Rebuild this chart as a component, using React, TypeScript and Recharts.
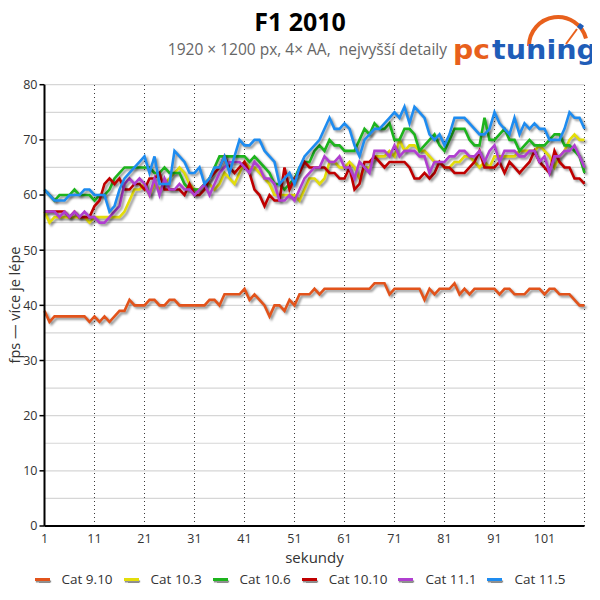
import React from 'react';
import { LineChart, Line, XAxis, YAxis, ReferenceLine } from 'recharts';

const seconds: number[] = Array.from({ length: 109 }, (_, i) => i + 1);

const cat910 = [
  39, 37, 38, 38, 38, 38, 38, 38, 38, 37,
  38, 37, 38, 37, 38, 39, 39, 41, 40, 40,
  40, 41, 41, 40, 40, 41, 41, 40, 40, 40,
  40, 40, 40, 41, 41, 40, 42, 42, 42, 42,
  43, 41, 42, 41, 40, 38, 40, 40, 39, 41,
  40, 42, 42, 42, 43, 42, 43, 43, 43, 43,
  43, 43, 43, 43, 43, 43, 44, 44, 44, 42,
  43, 43, 43, 43, 43, 43, 41, 43, 42, 43,
  43, 43, 44, 42, 43, 42, 43, 43, 43, 43,
  43, 42, 43, 43, 42, 42, 42, 43, 43, 43,
  42, 43, 43, 42, 42, 42, 41, 40, 40,
];

const cat103 = [
  57, 55, 56, 56, 56, 56, 56, 56, 56, 55,
  56, 56, 56, 56, 56, 56, 57, 59, 61, 61,
  62, 60, 62, 61, 62, 63, 64, 65, 64, 62,
  61, 61, 62, 62, 61, 62, 64, 63, 62, 64,
  66, 65, 65, 64, 63, 62, 60, 60, 60, 60,
  60, 59, 61, 63, 63, 62, 63, 66, 66, 65,
  65, 66, 65, 63, 65, 65, 67, 67, 67, 68,
  67, 70, 68, 69, 69, 68, 68, 67, 66, 66,
  65, 65, 66, 66, 67, 67, 66, 65, 66, 65,
  67, 67, 67, 67, 67, 68, 68, 68, 68, 69,
  68, 67, 65, 67, 68, 70, 71, 70, 70,
];

const cat106 = [
  61, 60, 59, 60, 60, 60, 61, 60, 60, 60,
  59, 60, 60, 61, 63, 64, 65, 65, 65, 65,
  65, 65, 64, 64, 65, 64, 64, 64, 62, 61,
  61, 61, 62, 63, 65, 67, 67, 67, 67, 67,
  67, 66, 67, 66, 65, 64, 62, 62, 61, 62,
  63, 65, 66, 66, 68, 69, 68, 70, 69, 69,
  68, 68, 68, 70, 72, 71, 73, 72, 72, 73,
  70, 70, 72, 72, 71, 68, 69, 70, 71, 69,
  68, 70, 72, 72, 72, 70, 69, 69, 74, 70,
  70, 71, 72, 70, 70, 68, 69, 70, 69, 69,
  69, 70, 71, 71, 69, 69, 68, 67, 64,
];

const cat1010 = [
  57, 57, 57, 57, 57, 56, 57, 56, 56, 56,
  58, 59, 62, 63, 62, 63, 61, 61, 62, 62,
  61, 63, 63, 64, 61, 61, 61, 61, 60, 62,
  60, 60, 61, 63, 64, 65, 67, 65, 64, 65,
  66, 64, 61, 60, 58, 60, 59, 59, 65, 61,
  63, 64, 66, 65, 65, 65, 65, 64, 64, 63,
  63, 65, 61, 62, 66, 66, 67, 66, 65, 66,
  66, 66, 66, 65, 63, 63, 64, 63, 64, 66,
  65, 65, 64, 64, 64, 65, 66, 68, 65, 65,
  65, 66, 64, 66, 65, 64, 65, 66, 68, 66,
  65, 64, 68, 66, 65, 65, 63, 63, 62,
];

const cat111 = [
  57, 57, 57, 56, 57, 56, 57, 56, 57, 56,
  56, 55, 55, 56, 57, 58, 62, 63, 62, 63,
  62, 60, 63, 60, 63, 61, 61, 62, 61, 61,
  60, 61, 62, 60, 62, 64, 65, 66, 66, 66,
  65, 64, 66, 65, 63, 63, 62, 59, 59, 60,
  59, 61, 63, 64, 65, 65, 67, 66, 66, 67,
  65, 65, 63, 66, 65, 64, 68, 68, 68, 67,
  69, 67, 68, 68, 68, 67, 67, 64, 66, 66,
  66, 67, 67, 68, 68, 67, 67, 68, 66, 68,
  69, 66, 68, 68, 68, 67, 67, 68, 68, 66,
  67, 64, 67, 67, 68, 68, 69, 67, 65,
];

const cat115 = [
  61, 60, 59, 59, 59, 60, 60, 60, 61, 61,
  60, 60, 60, 57, 58, 61, 63, 64, 65, 66,
  67, 64, 67, 62, 62, 62, 68, 67, 66, 64,
  64, 65, 62, 63, 65, 65, 67, 64, 67, 70,
  69, 69, 70, 70, 68, 67, 66, 62, 63, 64,
  62, 65, 67, 68, 69, 70, 72, 74, 72, 72,
  73, 72, 69, 67, 70, 71, 72, 72, 73, 74,
  75, 74, 76, 73, 76, 75, 74, 71, 70, 71,
  69, 71, 74, 74, 74, 73, 72, 71, 71, 72,
  75, 73, 72, 71, 74, 71, 73, 72, 73, 72,
  72, 70, 70, 70, 72, 75, 74, 74, 72,
];

const xTicks = [1, 11, 21, 31, 41, 51, 61, 71, 81, 91, 101];
const xGridValues = [11, 21, 31, 41, 51, 61, 71, 81, 91, 101, 109];
const yTicks = [0, 10, 20, 30, 40, 50, 60, 70, 80];
const yGridValues = [5, 10, 15, 20, 25, 30, 35, 40, 45, 50, 55, 60, 65, 70, 75, 80];

const series = [
  { key: 'cat910', name: 'Cat 9.10', color: '#E2531B', values: cat910 },
  { key: 'cat103', name: 'Cat 10.3', color: '#E3DD0A', values: cat103 },
  { key: 'cat106', name: 'Cat 10.6', color: '#1DB41D', values: cat106 },
  { key: 'cat1010', name: 'Cat 10.10', color: '#C00000', values: cat1010 },
  { key: 'cat111', name: 'Cat 11.1', color: '#B03FD0', values: cat111 },
  { key: 'cat115', name: 'Cat 11.5', color: '#1E8CF0', values: cat115 },
];

const data = seconds.map((s, i) => {
  const row: Record<string, number> = { s };
  series.forEach((sr) => {
    row[sr.key] = sr.values[i];
  });
  return row;
});

const FONT = "'Open Sans', 'DejaVu Sans', sans-serif";

export default function App() {
  return (
    <div style={{ position: 'relative', width: 584, height: 584, fontFamily: FONT }}>
      <style>{`.recharts-line-curve { filter: drop-shadow(2px 2.5px 1.2px rgba(0,0,0,0.42)); }`}</style>
      <LineChart
        width={584}
        height={584}
        data={data}
        margin={{ top: 76.7, right: 7.5, bottom: 41, left: 6.5 }}
      >
        {yGridValues.map((v) => (
          <ReferenceLine key={'h' + v} y={v} stroke="#d6d6d6" strokeWidth={1.2} />
        ))}
        {xGridValues.map((v) => (
          <ReferenceLine key={'v' + v} x={v} stroke="#3a3a3a" strokeWidth={1} strokeDasharray="1 3" />
        ))}
        <XAxis
          dataKey="s"
          type="number"
          domain={[1, 109]}
          ticks={xTicks}
          interval={0}
          height={25}
          axisLine={{ stroke: '#000', strokeWidth: 2 }}
          tickLine={false}
          tick={{ fill: '#333', fontSize: 12.5, fontFamily: FONT }}
        />
        <YAxis
          type="number"
          domain={[0, 80]}
          ticks={yTicks}
          interval={0}
          width={30}
          tickSize={5}
          axisLine={{ stroke: '#000', strokeWidth: 2 }}
          tickLine={{ stroke: '#000', strokeWidth: 1.5 }}
          tick={{ fill: '#333', fontSize: 12.5, fontFamily: FONT }}
        />
        {series.map((sr) => (
          <Line
            key={sr.key}
            dataKey={sr.key}
            name={sr.name}
            type="linear"
            stroke={sr.color}
            strokeWidth={2.6}
            dot={false}
            activeDot={false}
            isAnimationActive={false}
          />
        ))}
      </LineChart>

      <svg
        width={600}
        height={600}
        style={{ position: 'absolute', left: -8, top: -8, pointerEvents: 'none', overflow: 'visible' }}
      >
        <text x={300} y={31} textAnchor="middle" fontSize={25} fontWeight="bold" fill="#000" fontFamily={FONT}>
          F1 2010
        </text>
        <text x={447} y={55} textAnchor="end" fontSize={15.5} fill="#666" fontFamily={FONT} style={{ whiteSpace: 'pre' }}>
          {'1920 × 1200 px, 4× AA,  nejvyšší detaily'}
        </text>
        <path d="M 529 46 A 29 29 0 0 1 586 38.5" fill="none" stroke="#E8601C" strokeWidth={4} />
        <line x1={566} y1={44} x2={577} y2={29} stroke="#E8601C" strokeWidth={2} />
        <rect x={578} y={24} width={5} height={5} fill="#1F5DB8" transform="rotate(35 580.5 26.5)" />
        <text x={453} y={59} fontSize={27} fontWeight="bold" fill="#E8601C" fontFamily="'DejaVu Sans', sans-serif" textLength={37} lengthAdjust="spacingAndGlyphs">
          pc
        </text>
        <text x={492} y={59} fontSize={27} fontWeight="bold" fill="#1F5DB8" fontFamily="'DejaVu Sans', sans-serif" textLength={105} lengthAdjust="spacingAndGlyphs">
          tuning
        </text>
        <text
          x={14}
          y={305}
          textAnchor="middle"
          dominantBaseline="central"
          fontSize={14.5}
          fill="#333"
          fontFamily={FONT}
          transform="rotate(-90 14 305)"
        >
          fps — více je lépe
        </text>
        <text x={314.5} y={563} textAnchor="middle" fontSize={15} fill="#333" fontFamily={FONT}>
          sekundy
        </text>
      </svg>

      <div
        style={{
          position: 'absolute',
          left: -8,
          top: 562,
          width: 600,
          height: 18,
          display: 'flex',
          justifyContent: 'center',
          alignItems: 'center',
          fontSize: 13.5,
          color: '#333',
          fontFamily: FONT,
        }}
      >
        {series.map((sr, i) => (
          <div key={sr.key} style={{ display: 'flex', alignItems: 'center', marginLeft: i === 0 ? 0 : 11 }}>
            <div
              style={{
                width: 15,
                height: 3,
                background: sr.color,
                boxShadow: '1px 1.5px 1px rgba(0,0,0,0.45)',
                marginRight: 12,
              }}
            />
            <span>{sr.name}</span>
          </div>
        ))}
      </div>
    </div>
  );
}
